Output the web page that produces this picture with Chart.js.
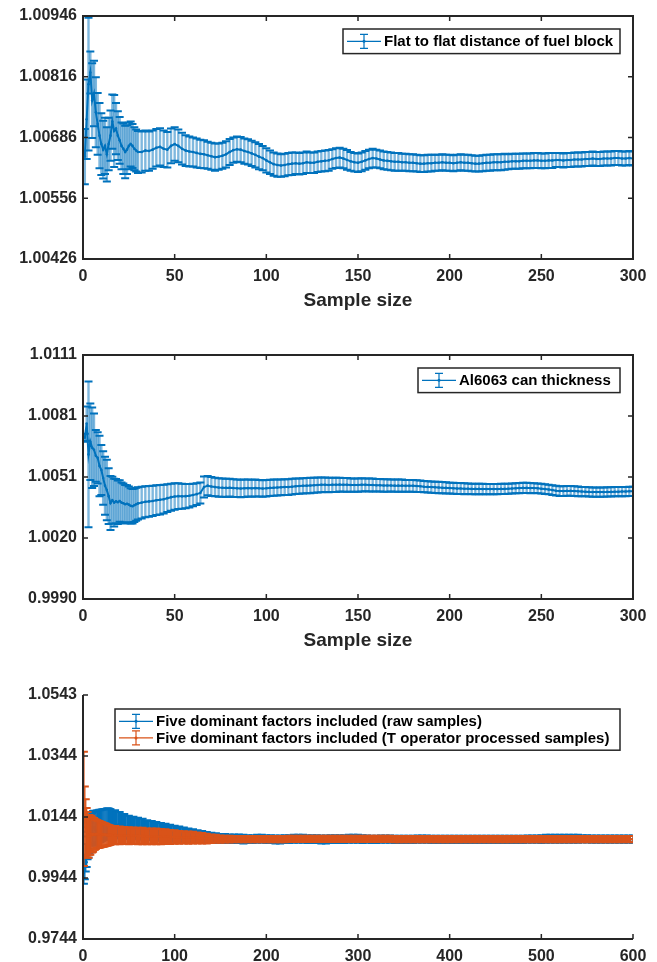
<!DOCTYPE html>
<html>
<head>
<meta charset="utf-8">
<title>Convergence of sampled parameters</title>
<script src="https://cdn.jsdelivr.net/npm/chart.js@4.4.1/dist/chart.umd.min.js"></script>
<style>
    body { margin: 0; background: #fff; width: 657px; height: 962px; position: relative; overflow: hidden; }
    canvas { position: absolute; left: 0; }
</style>
</head>
<body>
<canvas id="fuelBlockChart" width="657" height="320" style="top:0"></canvas>
<canvas id="canThicknessChart" width="657" height="330" style="top:330px"></canvas>
<canvas id="factorsChart" width="657" height="292" style="top:670px"></canvas>
<script>
// ---- Data -------------------------------------------------------------

// Sample sizes for the 300-sample runs (every sample early, then every 2nd)
const sampleSizes300 = [
    1, 2, 3, 4, 5, 6, 7, 8, 9, 10, 11, 12, 13, 14, 15, 16, 17, 18, 19, 20,
    21, 22, 23, 24, 25, 26, 27, 28, 29, 30,
    32, 34, 36, 38, 40, 42, 44, 46, 48, 50,
    52, 54, 56, 58, 60, 62, 64, 66, 68, 70,
    72, 74, 76, 78, 80, 82, 84, 86, 88, 90,
    92, 94, 96, 98, 100, 102, 104, 106, 108, 110,
    112, 114, 116, 118, 120, 122, 124, 126, 128, 130,
    132, 134, 136, 138, 140, 142, 144, 146, 148, 150,
    152, 154, 156, 158, 160, 162, 164, 166, 168, 170,
    172, 174, 176, 178, 180, 182, 184, 186, 188, 190,
    192, 194, 196, 198, 200, 202, 204, 206, 208, 210,
    212, 214, 216, 218, 220, 222, 224, 226, 228, 230,
    232, 234, 236, 238, 240, 242, 244, 246, 248, 250,
    252, 254, 256, 258, 260, 262, 264, 266, 268, 270,
    272, 274, 276, 278, 280, 282, 284, 286, 288, 290,
    292, 294, 296, 298, 300
];

// Flat to flat distance of fuel block: running mean and error half-width
const fuelBlockMean = [
    1.00645, 1.00725, 1.00800, 1.00825, 1.00765, 1.00780, 1.00740, 1.00715, 1.00690, 1.00672,
    1.00660, 1.00668, 1.00650, 1.00672, 1.00690, 1.00720, 1.00700, 1.00705, 1.00690, 1.00680,
    1.00668, 1.00662, 1.00655, 1.00660, 1.00668, 1.00672, 1.00668, 1.00662, 1.00658, 1.00655,
    1.00655, 1.00658, 1.00657, 1.00660, 1.00664, 1.00666, 1.00662, 1.00660, 1.00668, 1.00672,
    1.00668, 1.00662, 1.00658, 1.00656, 1.00655, 1.00653, 1.00651, 1.00650, 1.00648, 1.00646,
    1.00644, 1.00645, 1.00647, 1.00650, 1.00655, 1.00659, 1.00661, 1.00660, 1.00657, 1.00655,
    1.00652, 1.00649, 1.00645, 1.00642, 1.00637, 1.00633, 1.00629, 1.00627, 1.00626, 1.00627,
    1.00629, 1.00630, 1.00631, 1.00630, 1.00631, 1.00633, 1.00632, 1.00632, 1.00634, 1.00635,
    1.00636, 1.00637, 1.00640, 1.00642, 1.00643, 1.00641, 1.00638, 1.00635, 1.00633, 1.00632,
    1.00634, 1.00637, 1.00640, 1.00642, 1.00641, 1.00639, 1.00637, 1.00636, 1.00635, 1.00634,
    1.00634, 1.00633, 1.00633, 1.00632, 1.00632, 1.00631, 1.00630, 1.00630, 1.00631, 1.00631,
    1.00632, 1.00632, 1.00633, 1.00632, 1.00632, 1.00631, 1.00632, 1.00633, 1.00632, 1.00632,
    1.00631, 1.00630, 1.00630, 1.00631, 1.00632, 1.00632, 1.00633, 1.00633, 1.00633, 1.00634,
    1.00634, 1.00635, 1.00635, 1.00635, 1.00636, 1.00636, 1.00636, 1.00637, 1.00637, 1.00636,
    1.00636, 1.00637, 1.00637, 1.00638, 1.00638, 1.00637, 1.00638, 1.00638, 1.00639, 1.00639,
    1.00639, 1.00640, 1.00640, 1.00641, 1.00640, 1.00640, 1.00641, 1.00641, 1.00641, 1.00642,
    1.00642, 1.00641, 1.00641, 1.00642, 1.00641
];
const fuelBlockErr = [
    0.00059, 0.00085, 0.00142, 0.00045, 0.00080, 0.00070, 0.00075, 0.00066, 0.00070, 0.00066,
    0.00062, 0.00060, 0.00058, 0.00056, 0.00054, 0.00058, 0.00077, 0.00055, 0.00052, 0.00050,
    0.00050, 0.00054, 0.00056, 0.00052, 0.00050, 0.00048, 0.00047, 0.00046, 0.00045, 0.00045,
    0.00044, 0.00043, 0.00042, 0.00041, 0.00040, 0.00040, 0.00039, 0.00038, 0.00037, 0.00036,
    0.00035, 0.00034, 0.00033, 0.00032, 0.00031, 0.00031, 0.00030, 0.00030, 0.00029, 0.00029,
    0.00029, 0.00028, 0.00028, 0.00028, 0.00028, 0.00027, 0.00027, 0.00027, 0.00027, 0.00027,
    0.00027, 0.00027, 0.00027, 0.00026, 0.00026, 0.00025, 0.00025, 0.00025, 0.00024, 0.00024,
    0.00024, 0.00024, 0.00023, 0.00023, 0.00023, 0.00023, 0.00022, 0.00022, 0.00022, 0.00022,
    0.00022, 0.00022, 0.00021, 0.00021, 0.00021, 0.00021, 0.00021, 0.00020, 0.00020, 0.00020,
    0.00020, 0.00020, 0.00020, 0.00020, 0.00019, 0.00019, 0.00019, 0.00019, 0.00019, 0.00019,
    0.00019, 0.00018, 0.00018, 0.00018, 0.00018, 0.00018, 0.00018, 0.00018, 0.00018, 0.00018,
    0.00017, 0.00017, 0.00017, 0.00017, 0.00017, 0.00017, 0.00017, 0.00017, 0.00017, 0.00017,
    0.00017, 0.00017, 0.00017, 0.00017, 0.00017, 0.00017, 0.00017, 0.00017, 0.00017, 0.00017,
    0.00016, 0.00016, 0.00016, 0.00016, 0.00016, 0.00016, 0.00016, 0.00016, 0.00016, 0.00016,
    0.00016, 0.00016, 0.00016, 0.00015, 0.00015, 0.00015, 0.00015, 0.00015, 0.00015, 0.00015,
    0.00015, 0.00015, 0.00015, 0.00015, 0.00015, 0.00015, 0.00015, 0.00015, 0.00015, 0.00015,
    0.00015, 0.00015, 0.00015, 0.00015, 0.00015
];

// Al6063 can thickness: running mean and error half-width
const canThicknessMean = [
    1.00700, 1.00770, 1.00617, 1.00680, 1.00650, 1.00640, 1.00610, 1.00600, 1.00560, 1.00540,
    1.00500, 1.00462, 1.00440, 1.00410, 1.00376, 1.00390, 1.00378, 1.00385, 1.00380, 1.00386,
    1.00378, 1.00375, 1.00370, 1.00372, 1.00368, 1.00362, 1.00360, 1.00365, 1.00370, 1.00374,
    1.00378, 1.00382, 1.00384, 1.00386, 1.00390, 1.00392, 1.00395, 1.00400, 1.00405, 1.00408,
    1.00410, 1.00409, 1.00410, 1.00412, 1.00416, 1.00420, 1.00426, 1.00455, 1.00462, 1.00458,
    1.00455, 1.00453, 1.00452, 1.00451, 1.00452, 1.00450, 1.00449, 1.00448, 1.00449, 1.00450,
    1.00449, 1.00450, 1.00449, 1.00448, 1.00449, 1.00451, 1.00452, 1.00453, 1.00454, 1.00455,
    1.00455, 1.00457, 1.00459, 1.00460, 1.00461, 1.00462, 1.00463, 1.00464, 1.00465, 1.00466,
    1.00466, 1.00465, 1.00466, 1.00466, 1.00467, 1.00466, 1.00466, 1.00465, 1.00465, 1.00465,
    1.00466, 1.00466, 1.00465, 1.00465, 1.00464, 1.00464, 1.00463, 1.00463, 1.00463, 1.00462,
    1.00462, 1.00462, 1.00461, 1.00461, 1.00461, 1.00460, 1.00459, 1.00457, 1.00456, 1.00455,
    1.00454, 1.00453, 1.00452, 1.00451, 1.00450, 1.00449, 1.00448, 1.00448, 1.00447, 1.00447,
    1.00446, 1.00446, 1.00446, 1.00445, 1.00445, 1.00445, 1.00445, 1.00445, 1.00446, 1.00446,
    1.00447, 1.00448, 1.00449, 1.00450, 1.00451, 1.00451, 1.00450, 1.00450, 1.00449, 1.00447,
    1.00445, 1.00443, 1.00440, 1.00437, 1.00435, 1.00435, 1.00436, 1.00436, 1.00435, 1.00434,
    1.00433, 1.00432, 1.00431, 1.00430, 1.00430, 1.00430, 1.00430, 1.00431, 1.00431, 1.00432,
    1.00432, 1.00433, 1.00433, 1.00434, 1.00434
];
const canThicknessErr = [
    0.00020, 0.00085, 0.00361, 0.00190, 0.00200, 0.00180, 0.00128, 0.00127, 0.00150, 0.00124,
    0.00133, 0.00144, 0.00150, 0.00138, 0.00134, 0.00116, 0.00118, 0.00110, 0.00108, 0.00103,
    0.00100, 0.00098, 0.00095, 0.00092, 0.00090, 0.00087, 0.00085, 0.00083, 0.00082, 0.00080,
    0.00079, 0.00077, 0.00076, 0.00075, 0.00074, 0.00073, 0.00071, 0.00069, 0.00067, 0.00066,
    0.00064, 0.00062, 0.00060, 0.00058, 0.00056, 0.00054, 0.00052, 0.00052, 0.00048, 0.00047,
    0.00046, 0.00046, 0.00045, 0.00045, 0.00044, 0.00044, 0.00043, 0.00043, 0.00043, 0.00042,
    0.00042, 0.00042, 0.00041, 0.00041, 0.00041, 0.00040, 0.00040, 0.00040, 0.00039, 0.00039,
    0.00039, 0.00039, 0.00038, 0.00038, 0.00038, 0.00038, 0.00038, 0.00037, 0.00037, 0.00037,
    0.00036, 0.00036, 0.00035, 0.00035, 0.00034, 0.00034, 0.00034, 0.00033, 0.00033, 0.00033,
    0.00033, 0.00032, 0.00032, 0.00032, 0.00031, 0.00031, 0.00031, 0.00031, 0.00030, 0.00030,
    0.00030, 0.00030, 0.00029, 0.00029, 0.00029, 0.00029, 0.00029, 0.00028, 0.00028, 0.00028,
    0.00028, 0.00028, 0.00028, 0.00028, 0.00027, 0.00027, 0.00027, 0.00027, 0.00027, 0.00026,
    0.00026, 0.00026, 0.00026, 0.00026, 0.00025, 0.00025, 0.00025, 0.00025, 0.00025, 0.00025,
    0.00025, 0.00025, 0.00025, 0.00025, 0.00025, 0.00025, 0.00025, 0.00024, 0.00024, 0.00024,
    0.00024, 0.00024, 0.00024, 0.00024, 0.00024, 0.00024, 0.00024, 0.00024, 0.00024, 0.00024,
    0.00023, 0.00023, 0.00023, 0.00023, 0.00023, 0.00023, 0.00023, 0.00023, 0.00023, 0.00023,
    0.00023, 0.00023, 0.00023, 0.00023, 0.00023
];

// Sample sizes for the 600-sample runs (every sample early, then every 5th)
const sampleSizes600 = [
    1, 2, 3, 4, 5, 6, 7, 8, 9, 10, 11, 12, 13, 14, 15, 16, 17, 18, 19, 20,
    21, 22, 23, 24, 25, 26, 27, 28, 29, 30,
    35, 40, 45, 50, 55, 60, 65, 70, 75, 80,
    85, 90, 95, 100, 105, 110, 115, 120, 125, 130,
    135, 140, 145, 150, 155, 160, 165, 170, 175, 180,
    185, 190, 195, 200, 205, 210, 215, 220, 225, 230,
    235, 240, 245, 250, 255, 260, 265, 270, 275, 280,
    285, 290, 295, 300, 305, 310, 315, 320, 325, 330,
    335, 340, 345, 350, 355, 360, 365, 370, 375, 380,
    385, 390, 395, 400, 405, 410, 415, 420, 425, 430,
    435, 440, 445, 450, 455, 460, 465, 470, 475, 480,
    485, 490, 495, 500, 505, 510, 515, 520, 525, 530,
    535, 540, 545, 550, 555, 560, 565, 570, 575, 580,
    585, 590, 595, 600
];

// Five dominant factors, raw samples
const rawMean = [
    0.9960, 0.9980, 1.0010, 1.0030, 1.0050, 1.0060, 1.0075, 1.0090, 1.0100, 1.0105,
    1.0108, 1.0110, 1.0105, 1.0108, 1.0112, 1.0110, 1.0113, 1.0115, 1.0114, 1.0116,
    1.0117, 1.0118, 1.0119, 1.0120, 1.0121, 1.0122, 1.0123, 1.0123, 1.0122, 1.0122,
    1.0120, 1.0117, 1.0113, 1.0110, 1.0108, 1.0106, 1.0104, 1.0101, 1.0099, 1.0097,
    1.0095, 1.0093, 1.0091, 1.0089, 1.0087, 1.0085, 1.0083, 1.0081, 1.0079, 1.0078,
    1.0076, 1.0075, 1.0074, 1.0073, 1.0073, 1.0072, 1.0072, 1.0072, 1.0071, 1.0071,
    1.0071, 1.0072, 1.0072, 1.0071, 1.0071, 1.0070, 1.0070, 1.0071, 1.0071, 1.0072,
    1.0072, 1.0072, 1.0071, 1.0071, 1.0071, 1.0070, 1.0070, 1.0071, 1.0071, 1.0071,
    1.0071, 1.0072, 1.0072, 1.0072, 1.0071, 1.0071, 1.0070, 1.0070, 1.0071, 1.0071,
    1.0071, 1.0070, 1.0070, 1.0070, 1.0070, 1.0070, 1.0071, 1.0071, 1.0071, 1.0070,
    1.0070, 1.0070, 1.0070, 1.0070, 1.0070, 1.0070, 1.0070, 1.0070, 1.0070, 1.0070,
    1.0070, 1.0070, 1.0070, 1.0070, 1.0070, 1.0070, 1.0070, 1.0070, 1.0070, 1.0070,
    1.0071, 1.0071, 1.0071, 1.0071, 1.0072, 1.0072, 1.0072, 1.0072, 1.0072, 1.0072,
    1.0072, 1.0072, 1.0072, 1.0072, 1.0071, 1.0071, 1.0071, 1.0071, 1.0071, 1.0071,
    1.0071, 1.0071, 1.0071, 1.0071
];
const rawErr = [
    0.0035, 0.0040, 0.0045, 0.0050, 0.0045, 0.0050, 0.0050, 0.0050, 0.0050, 0.0052,
    0.0055, 0.0054, 0.0056, 0.0055, 0.0053, 0.0054, 0.0053, 0.0052, 0.0052, 0.0051,
    0.0051, 0.0050, 0.0050, 0.0050, 0.0049, 0.0049, 0.0048, 0.0048, 0.0048, 0.0047,
    0.0046, 0.0043, 0.0040, 0.0038, 0.0036, 0.0035, 0.0034, 0.0032, 0.0031, 0.0030,
    0.0029, 0.0028, 0.0027, 0.0026, 0.0025, 0.0024, 0.0023, 0.0022, 0.0021, 0.0020,
    0.0018, 0.0017, 0.0016, 0.0015, 0.0015, 0.0014, 0.0014, 0.0014, 0.0014, 0.0013,
    0.0013, 0.0013, 0.0013, 0.0013, 0.0013, 0.0013, 0.0013, 0.0013, 0.0013, 0.0013,
    0.0013, 0.0013, 0.0013, 0.0013, 0.0013, 0.0013, 0.0013, 0.0013, 0.0013, 0.0013,
    0.0013, 0.0013, 0.0013, 0.0013, 0.0013, 0.0012, 0.0012, 0.0012, 0.0012, 0.0012,
    0.0012, 0.0012, 0.0012, 0.0012, 0.0012, 0.0012, 0.0012, 0.0012, 0.0012, 0.0012,
    0.0012, 0.0012, 0.0012, 0.0012, 0.0012, 0.0012, 0.0012, 0.0012, 0.0012, 0.0012,
    0.0012, 0.0012, 0.0012, 0.0012, 0.0012, 0.0012, 0.0012, 0.0012, 0.0012, 0.0012,
    0.0012, 0.0012, 0.0012, 0.0013, 0.0013, 0.0013, 0.0013, 0.0013, 0.0013, 0.0013,
    0.0013, 0.0013, 0.0012, 0.0012, 0.0012, 0.0012, 0.0012, 0.0012, 0.0012, 0.0012,
    0.0012, 0.0012, 0.0012, 0.0012
];

// Five dominant factors, T operator processed samples
const processedMean = [
    1.0170, 1.0130, 1.0110, 1.0095, 1.0085, 1.0080, 1.0085, 1.0082, 1.0088, 1.0085,
    1.0085, 1.0088, 1.0086, 1.0087, 1.0088, 1.0087, 1.0086, 1.0087, 1.0086, 1.0086,
    1.0086, 1.0085, 1.0085, 1.0085, 1.0085, 1.0084, 1.0084, 1.0084, 1.0084, 1.0084,
    1.0084, 1.0083, 1.0083, 1.0082, 1.0082, 1.0081, 1.0081, 1.0080, 1.0080, 1.0080,
    1.0079, 1.0079, 1.0078, 1.0078, 1.0077, 1.0077, 1.0076, 1.0076, 1.0075, 1.0074,
    1.0073, 1.0072, 1.0072, 1.0071, 1.0071, 1.0071, 1.0071, 1.0071, 1.0071, 1.0071,
    1.0071, 1.0071, 1.0071, 1.0071, 1.0071, 1.0071, 1.0071, 1.0071, 1.0072, 1.0072,
    1.0072, 1.0072, 1.0072, 1.0072, 1.0072, 1.0072, 1.0072, 1.0072, 1.0072, 1.0072,
    1.0072, 1.0072, 1.0072, 1.0072, 1.0072, 1.0072, 1.0072, 1.0072, 1.0072, 1.0072,
    1.0072, 1.0071, 1.0071, 1.0071, 1.0071, 1.0071, 1.0071, 1.0071, 1.0071, 1.0071,
    1.0071, 1.0071, 1.0071, 1.0071, 1.0071, 1.0071, 1.0071, 1.0071, 1.0071, 1.0071,
    1.0071, 1.0071, 1.0071, 1.0071, 1.0071, 1.0071, 1.0071, 1.0071, 1.0071, 1.0071,
    1.0071, 1.0071, 1.0071, 1.0071, 1.0071, 1.0071, 1.0071, 1.0071, 1.0071, 1.0071,
    1.0071, 1.0071, 1.0071, 1.0071, 1.0071, 1.0071, 1.0071, 1.0071, 1.0071, 1.0071,
    1.0071, 1.0071, 1.0071, 1.0071
];
const processedErr = [
    0.0187, 0.0113, 0.0092, 0.0078, 0.0075, 0.0070, 0.0065, 0.0062, 0.0060, 0.0058,
    0.0055, 0.0052, 0.0050, 0.0048, 0.0046, 0.0045, 0.0044, 0.0043, 0.0042, 0.0041,
    0.0040, 0.0039, 0.0038, 0.0037, 0.0036, 0.0035, 0.0034, 0.0033, 0.0032, 0.0031,
    0.0030, 0.0029, 0.0028, 0.0028, 0.0027, 0.0027, 0.0027, 0.0026, 0.0026, 0.0026,
    0.0025, 0.0024, 0.0023, 0.0022, 0.0021, 0.0020, 0.0020, 0.0019, 0.0018, 0.0017,
    0.0016, 0.0014, 0.0013, 0.0012, 0.0011, 0.0011, 0.0010, 0.0010, 0.0010, 0.0010,
    0.0010, 0.0010, 0.0010, 0.0010, 0.0010, 0.0010, 0.0010, 0.0010, 0.0010, 0.0010,
    0.0010, 0.0010, 0.0010, 0.0010, 0.0010, 0.0010, 0.0010, 0.0010, 0.0010, 0.0010,
    0.0010, 0.0010, 0.0010, 0.0010, 0.0010, 0.0010, 0.0010, 0.0010, 0.0010, 0.0010,
    0.0010, 0.0010, 0.0010, 0.0010, 0.0010, 0.0010, 0.0010, 0.0010, 0.0010, 0.0010,
    0.0010, 0.0010, 0.0010, 0.0010, 0.0010, 0.0010, 0.0010, 0.0010, 0.0010, 0.0010,
    0.0010, 0.0010, 0.0010, 0.0010, 0.0010, 0.0010, 0.0010, 0.0010, 0.0010, 0.0010,
    0.0010, 0.0010, 0.0010, 0.0010, 0.0010, 0.0010, 0.0010, 0.0010, 0.0010, 0.0010,
    0.0010, 0.0010, 0.0010, 0.0010, 0.0010, 0.0010, 0.0010, 0.0010, 0.0010, 0.0010,
    0.0010, 0.0010, 0.0010, 0.0010
];

// Y tick positions and their printed labels
const fuelBlockTicks = [1.00426, 1.00556, 1.00686, 1.00816, 1.00946];
const fuelBlockTickLabels = ['1.00426', '1.00556', '1.00686', '1.00816', '1.00946'];
const canThicknessTicks = [0.9990, 1.002025, 1.00505, 1.008075, 1.0111];
const canThicknessTickLabels = ['0.9990', '1.0020', '1.0051', '1.0081', '1.0111'];
const factorTicks = [0.9744, 0.99438, 1.01435, 1.03433, 1.0543];
const factorTickLabels = ['0.9744', '0.9944', '1.0144', '1.0344', '1.0543'];

// ---- Styling ----------------------------------------------------------

const BLUE = '#0072BD';
const ORANGE = '#D95319';
const AXIS_COLOR = '#262626';
const FONT_FAMILY = "'Liberation Sans', Arial, Helvetica, sans-serif";

Chart.defaults.font.family = FONT_FAMILY;
Chart.defaults.color = AXIS_COLOR;

/**
 * Draws vertical error bars with caps under each line dataset that has an
 * `errors` array. stemWidth 'fill' widens stems to touch the next sample.
 */
const errorBarPlugin = {
    id: 'errorBars',
    beforeDatasetDraw(chart, args) {
        const ds = chart.data.datasets[args.index];
        if (!ds.errors) return;
        const { ctx, chartArea } = chart;
        const xScale = chart.scales.x;
        const yScale = chart.scales.y;

        ctx.save();
        ctx.beginPath();
        ctx.rect(chartArea.left, chartArea.top, chartArea.right - chartArea.left, chartArea.bottom - chartArea.top);
        ctx.clip();

        ds.data.forEach((point, i) => {
            const x = xScale.getPixelForValue(point.x);
            const yTop = yScale.getPixelForValue(point.y + ds.errors[i]);
            const yBottom = yScale.getPixelForValue(point.y - ds.errors[i]);

            let stem = ds.stemWidth;
            if (stem === 'fill') {
                const next = ds.data[i + 1];
                stem = next ? Math.max(1, xScale.getPixelForValue(next.x) - x + 0.4) : 1;
            }
            ctx.strokeStyle = ds.stemColor;
            ctx.lineWidth = stem;
            ctx.beginPath();
            ctx.moveTo(x, yTop);
            ctx.lineTo(x, yBottom);
            ctx.stroke();

            ctx.strokeStyle = ds.borderColor;
            ctx.lineWidth = ds.capWidth;
            ctx.beginPath();
            ctx.moveTo(x - ds.capHalf, yTop);
            ctx.lineTo(x + ds.capHalf, yTop);
            ctx.moveTo(x - ds.capHalf, yBottom);
            ctx.lineTo(x + ds.capHalf, yBottom);
            ctx.stroke();
        });
        ctx.restore();
    }
};

/**
 * Axis lines with inward tick marks; `box` closes the frame on top/right.
 */
const axesFramePlugin = {
    id: 'axesFrame',
    afterDatasetsDraw(chart, args, opts) {
        const { ctx, chartArea: a } = chart;
        const tickLen = 5;
        ctx.save();
        ctx.strokeStyle = AXIS_COLOR;
        ctx.lineWidth = 2;
        ctx.beginPath();
        ctx.moveTo(a.left, a.top);
        ctx.lineTo(a.left, a.bottom);
        ctx.lineTo(a.right, a.bottom);
        if (opts.box) {
            ctx.lineTo(a.right, a.top);
            ctx.closePath();
        }
        ctx.stroke();

        ctx.lineWidth = 1.5;
        ctx.beginPath();
        chart.scales.y.ticks.forEach(t => {
            const y = chart.scales.y.getPixelForValue(t.value);
            ctx.moveTo(a.left, y);
            ctx.lineTo(a.left + tickLen, y);
            if (opts.box) {
                ctx.moveTo(a.right, y);
                ctx.lineTo(a.right - tickLen, y);
            }
        });
        chart.scales.x.ticks.forEach(t => {
            const x = chart.scales.x.getPixelForValue(t.value);
            ctx.moveTo(x, a.bottom);
            ctx.lineTo(x, a.bottom - tickLen);
            if (opts.box) {
                ctx.moveTo(x, a.top);
                ctx.lineTo(x, a.top + tickLen);
            }
        });
        ctx.stroke();
        ctx.restore();
    }
};

/**
 * Boxed legend in the upper part of the plot, one errorbar glyph per series.
 */
const boxLegendPlugin = {
    id: 'boxLegend',
    afterDraw(chart, args, opts) {
        const { ctx } = chart;
        const datasets = chart.data.datasets;
        const rowH = 16.6;
        const top = chart.chartArea.top + opts.offsetTop;
        const height = 8 + rowH * datasets.length;

        ctx.save();
        ctx.fillStyle = '#fff';
        ctx.fillRect(opts.left, top, opts.right - opts.left, height);
        ctx.strokeStyle = AXIS_COLOR;
        ctx.lineWidth = 1.5;
        ctx.strokeRect(opts.left, top, opts.right - opts.left, height);

        datasets.forEach((ds, i) => {
            const cy = top + 4 + rowH * (i + 0.5);
            const bx = opts.left + 21;
            ctx.strokeStyle = ds.borderColor;
            ctx.lineWidth = 1.2;
            ctx.beginPath();
            ctx.moveTo(opts.left + 4, cy);
            ctx.lineTo(opts.left + 38, cy);
            ctx.moveTo(bx, cy - 7);
            ctx.lineTo(bx, cy + 7);
            ctx.moveTo(bx - 4, cy - 7);
            ctx.lineTo(bx + 4, cy - 7);
            ctx.moveTo(bx - 4, cy + 7);
            ctx.lineTo(bx + 4, cy + 7);
            ctx.stroke();
            ctx.fillStyle = ds.borderColor;
            ctx.beginPath();
            ctx.arc(bx, cy, 1.5, 0, Math.PI * 2);
            ctx.fill();

            ctx.fillStyle = '#000';
            ctx.font = 'bold 15px ' + FONT_FAMILY;
            ctx.textAlign = 'left';
            ctx.textBaseline = 'middle';
            ctx.fillText(ds.label, opts.left + 41, cy + 0.5);
        });
        ctx.restore();
    }
};

// ---- Chart builders -------------------------------------------------

function errorSeries(label, xs, means, errs, color, style) {
    return Object.assign({
        label: label,
        data: xs.map((x, i) => ({ x: x, y: means[i] })),
        errors: errs,
        borderColor: color,
        backgroundColor: color,
        borderWidth: 2,
        pointRadius: 1.3,
        pointBorderWidth: 0,
        pointBackgroundColor: color,
        tension: 0,
        stemColor: color,
        stemWidth: 1,
        capWidth: 2,
        capHalf: 4
    }, style);
}

function buildChart(canvasId, cfg) {
    const canvas = document.getElementById(canvasId);
    return new Chart(canvas, {
        type: 'line',
        data: { datasets: cfg.datasets },
        options: {
            responsive: false,
            devicePixelRatio: 1,
            animation: false,
            events: [],
            layout: { padding: { top: cfg.padTop, right: 24, left: 0, bottom: 0 } },
            plugins: {
                legend: { display: false },
                tooltip: { enabled: false },
                axesFrame: { box: cfg.box },
                boxLegend: cfg.legend
            },
            scales: {
                x: {
                    type: 'linear',
                    min: 0,
                    max: cfg.xMax,
                    grid: { display: false, drawTicks: false },
                    border: { display: false },
                    ticks: {
                        stepSize: cfg.xStep,
                        padding: 8,
                        color: AXIS_COLOR,
                        font: { size: 16, weight: 'bold' },
                        maxRotation: 0
                    },
                    title: {
                        display: !!cfg.xTitle,
                        text: cfg.xTitle || '',
                        color: AXIS_COLOR,
                        font: { size: 19, weight: 'bold' },
                        padding: { top: 0, bottom: 8 }
                    },
                    afterFit(scale) { scale.height = cfg.xHeight; }
                },
                y: {
                    type: 'linear',
                    min: cfg.yTicks[0],
                    max: cfg.yTicks[cfg.yTicks.length - 1],
                    grid: { display: false, drawTicks: false },
                    border: { display: false },
                    afterBuildTicks(scale) {
                        scale.ticks = cfg.yTicks.map(v => ({ value: v }));
                    },
                    ticks: {
                        autoSkip: false,
                        padding: 6,
                        color: AXIS_COLOR,
                        font: { size: 16, weight: 'bold' },
                        callback: (value, index) => cfg.yLabels[index]
                    },
                    afterFit(scale) { scale.width = 83; }
                }
            }
        },
        plugins: [errorBarPlugin, axesFramePlugin, boxLegendPlugin]
    });
}

// Light, wide stems give the hatched look of densely packed error bars
const lightStems = { stemColor: 'rgba(0, 114, 189, 0.5)', stemWidth: 2.4 };

buildChart('fuelBlockChart', {
    datasets: [
        errorSeries('Flat to flat distance of fuel block', sampleSizes300, fuelBlockMean, fuelBlockErr, BLUE, lightStems)
    ],
    padTop: 16, xHeight: 61, xMax: 300, xStep: 50, xTitle: 'Sample size', box: true,
    yTicks: fuelBlockTicks, yLabels: fuelBlockTickLabels,
    legend: { left: 343, right: 620, offsetTop: 13 }
});

buildChart('canThicknessChart', {
    datasets: [
        errorSeries('Al6063 can thickness', sampleSizes300, canThicknessMean, canThicknessErr, BLUE, lightStems)
    ],
    padTop: 25, xHeight: 61, xMax: 300, xStep: 50, xTitle: 'Sample size', box: true,
    yTicks: canThicknessTicks, yLabels: canThicknessTickLabels,
    legend: { left: 418, right: 620, offsetTop: 13 }
});

buildChart('factorsChart', {
    datasets: [
        errorSeries('Five dominant factors included (raw samples)', sampleSizes600, rawMean, rawErr, BLUE,
            { stemWidth: 'fill', order: 1 }),
        errorSeries('Five dominant factors included (T operator processed samples)', sampleSizes600, processedMean, processedErr, ORANGE,
            { stemWidth: 'fill', order: 0 })
    ],
    padTop: 25, xHeight: 23, xMax: 600, xStep: 100, xTitle: null, box: false,
    yTicks: factorTicks, yLabels: factorTickLabels,
    legend: { left: 115, right: 620, offsetTop: 14 }
});
</script>
</body>
</html>
